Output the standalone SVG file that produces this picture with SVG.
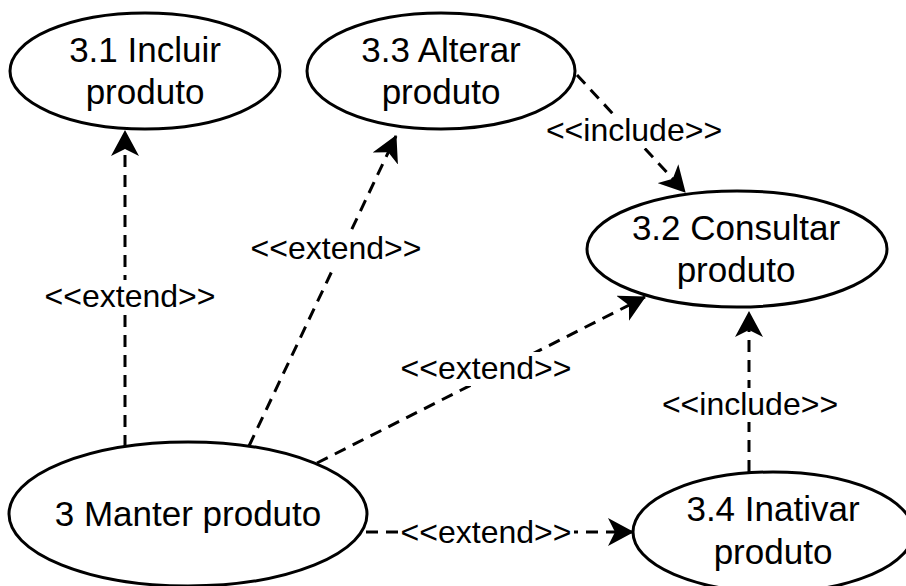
<svg xmlns="http://www.w3.org/2000/svg" width="906" height="586" viewBox="0 0 906 586">
<style>
.uc{fill:#fff;stroke:#000;stroke-width:3}
.t{font-family:"Liberation Sans",Arial,sans-serif;font-size:35px;fill:#000;text-anchor:middle}
.l{font-family:"Liberation Sans",Arial,sans-serif;font-size:32px;fill:#000;text-anchor:middle}
.e{fill:none;stroke:#000;stroke-width:3;stroke-dasharray:12 8}
.bg{fill:#fff}
</style>
<defs>
<marker id="arr" viewBox="0 0 26 28" refX="25" refY="14" markerWidth="26" markerHeight="28" markerUnits="userSpaceOnUse" orient="auto">
<path d="M0,0 L26,14 L0,28 L7,14 Z" fill="#000" stroke="none"/>
</marker>
</defs>
<g id="connectors">
<line class="e" x1="125" y1="447" x2="125" y2="131" marker-end="url(#arr)"/>
<line class="e" x1="249" y1="446" x2="396" y2="136" marker-end="url(#arr)"/>
<line class="e" x1="317" y1="463" x2="645" y2="297" marker-end="url(#arr)"/>
<line class="e" x1="366" y1="532" x2="633" y2="532" marker-end="url(#arr)"/>
<line class="e" x1="577" y1="75" x2="685" y2="192" marker-end="url(#arr)"/>
<line class="e" x1="749" y1="472" x2="749" y2="312" marker-end="url(#arr)"/>
<rect class="bg" x="42" y="280" width="176" height="34"/>
<text class="l" x="130" y="307">&lt;&lt;extend&gt;&gt;</text>
<rect class="bg" x="248" y="232" width="176" height="34"/>
<text class="l" x="336" y="259">&lt;&lt;extend&gt;&gt;</text>
<rect class="bg" x="398" y="352" width="176" height="34"/>
<text class="l" x="486" y="379">&lt;&lt;extend&gt;&gt;</text>
<rect class="bg" x="398" y="516" width="176" height="34"/>
<text class="l" x="486" y="543">&lt;&lt;extend&gt;&gt;</text>
<rect class="bg" x="544" y="114" width="180" height="34"/>
<text class="l" x="634" y="141">&lt;&lt;include&gt;&gt;</text>
<rect class="bg" x="660" y="388" width="180" height="34"/>
<text class="l" x="750" y="415">&lt;&lt;include&gt;&gt;</text>
</g>
<g id="uc31">
<ellipse class="uc" cx="145" cy="71" rx="135" ry="58"/>
<text class="t" x="145" y="62">3.1 Incluir</text>
<text class="t" x="145" y="104">produto</text>
</g>
<g id="uc33">
<ellipse class="uc" cx="441" cy="71" rx="134" ry="58"/>
<text class="t" x="441" y="62">3.3 Alterar</text>
<text class="t" x="441" y="104">produto</text>
</g>
<g id="uc32">
<ellipse class="uc" cx="737" cy="249" rx="150" ry="58"/>
<text class="t" x="736" y="240">3.2 Consultar</text>
<text class="t" x="736" y="282">produto</text>
</g>
<g id="uc3">
<ellipse class="uc" cx="188" cy="514" rx="179" ry="72"/>
<text class="t" x="188" y="526">3 Manter produto</text>
</g>
<g id="uc34">
<ellipse class="uc" cx="773" cy="532" rx="140" ry="60"/>
<text class="t" x="773" y="521">3.4 Inativar</text>
<text class="t" x="773" y="564">produto</text>
</g>
</svg>
